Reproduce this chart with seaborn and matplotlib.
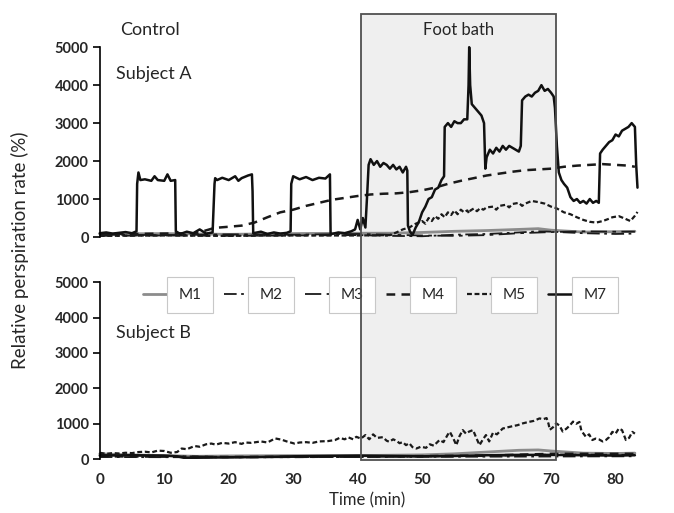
import matplotlib
matplotlib.use("Agg")
import matplotlib.pyplot as plt
import matplotlib.transforms as mtransforms
from matplotlib.patches import Rectangle
import pandas as pd
import seaborn as sns

# ---- data: Subject A (top panel) ----
a_m7_t = [0, 1, 2, 3, 4, 5, 5.7, 5.8, 6.0, 6.3, 7, 8, 8.5, 9, 10, 10.5, 11, 11.7,
          11.8, 12.5, 13.5, 14.5, 15.5, 16.5, 17.5, 17.8, 17.9, 18.2, 19, 20, 21,
          21.5, 22, 23, 23.6, 23.7, 23.8, 25, 26, 27, 28, 29, 29.6, 29.7, 30, 31,
          32, 33, 34, 35, 35.7, 35.8, 36, 37, 38, 39, 39.6, 40, 40.4, 40.8, 41.2,
          41.5, 41.7, 42, 42.5, 43, 43.5, 44, 44.5, 45, 45.5, 46, 46.5, 47, 47.5,
          47.7, 47.8, 48.1, 48.5, 49, 49.5, 50, 50.5, 51, 51.5, 52, 52.5, 53, 53.4,
          53.5, 54, 54.5, 55, 55.5, 56, 56.5, 57.0, 57.2, 57.3, 57.45, 57.7, 58.2,
          58.7, 59.2, 59.6, 59.8, 60, 60.5, 61, 61.5, 62, 62.5, 63, 63.5, 64, 64.5,
          65.0, 65.3, 65.5, 66, 66.5, 67, 67.5, 68, 68.5, 69, 69.5, 70, 70.4, 70.6,
          70.9, 71.2, 71.6, 72, 72.5, 73, 73.5, 74, 74.5, 75, 75.5, 76, 76.5, 77,
          77.4, 77.6, 78, 78.5, 79, 79.5, 80, 80.5, 81, 81.5, 82, 82.5, 83, 83.2,
          83.4]
a_m7_v = [100, 120, 90, 110, 130, 100, 150, 1400, 1700, 1500, 1520, 1480, 1600, 1500,
          1480, 1650, 1480, 1500, 150, 80, 140, 100, 200, 90, 120, 1400, 1550, 1500,
          1560, 1500, 1600, 1480, 1550, 1620, 1650, 1200, 100, 140, 80, 120, 90, 110,
          150, 1400, 1600, 1520, 1580, 1500, 1560, 1540, 1650, 100, 80, 120, 100, 150,
          200, 450, 200, 500, 250, 1200, 1900, 2050, 1900, 2000, 1850, 1950, 1900,
          1800, 1900, 1780, 1850, 1700, 1850, 1750, 300, 150, 50, 250, 400, 650, 800,
          1000, 1050, 1250, 1300, 1500, 1600, 2900, 3000, 2900, 3050, 3000, 3000,
          3100, 3100, 4000, 5000, 4000, 3500, 3400, 3300, 3200, 3000, 1800, 2100,
          2300, 2200, 2350, 2250, 2400, 2300, 2400, 2350, 2300, 2250, 2400, 3600,
          3700, 3750, 3700, 3800, 3850, 4000, 3850, 3900, 3800, 3700, 3400, 2400,
          1700, 1500, 1400, 1300, 1050, 950, 1000, 900, 950, 880, 1000, 900, 950, 900,
          2200, 2300, 2400, 2500, 2550, 2700, 2650, 2800, 2850, 2900, 3000, 2900,
          1900, 1300]

a_m4_t = [0, 5, 10, 15, 17.8, 20, 22, 24, 26, 28, 30, 32, 34, 36, 38, 40, 42, 44,
          46, 48, 50, 52, 54, 56, 58, 60, 62, 64, 66, 68, 70, 72, 74, 76, 78, 80, 82, 83]
a_m4_v = [90, 80, 90, 100, 240, 270, 300, 380, 520, 650, 720, 820, 900, 980, 1030,
          1080, 1120, 1140, 1150, 1180, 1230, 1300, 1400, 1480, 1550, 1620, 1670,
          1720, 1760, 1780, 1800, 1850, 1880, 1900, 1920, 1900, 1880, 1850]

a_m5_t = [0, 10, 20, 30, 40, 45, 46, 47, 48, 49, 50, 50.5, 51, 51.5, 52, 52.5, 53,
          53.5, 54, 54.5, 55, 55.5, 56, 56.5, 57, 57.3, 57.5, 58, 58.5, 59, 59.5, 60,
          61, 61.5, 62, 63, 63.5, 64, 65, 65.5, 66, 67, 68, 69, 70, 70.8, 72, 73, 74,
          75, 76, 77, 78, 78.8, 79.5, 80.5, 81.5, 82.3, 83, 83.4]
a_m5_v = [30, 40, 30, 40, 40, 50, 120, 200, 250, 350, 420, 350, 500, 420, 550, 480,
          600, 520, 650, 580, 700, 600, 720, 650, 700, 620, 700, 750, 680, 760, 720,
          780, 800, 720, 820, 850, 780, 870, 900, 820, 880, 950, 920, 880, 800, 760,
          650, 600, 520, 450, 400, 380, 420, 470, 520, 550, 480, 420, 560, 660]

a_m1_t = [0, 10, 20, 30, 40, 45, 50, 55, 60, 65, 68, 70, 75, 80, 83]
a_m1_v = [80, 90, 70, 90, 100, 100, 120, 150, 170, 200, 220, 180, 130, 140, 150]

a_m2_t = [0, 10, 20, 30, 40, 45, 50, 55, 60, 65, 68, 70, 75, 80, 83]
a_m2_v = [30, 40, 30, 40, 50, 30, 20, 60, 80, 120, 150, 140, 100, 80, 90]

a_m3_t = [0, 10, 20, 30, 40, 45, 50, 55, 60, 65, 70, 75, 80, 83]
a_m3_v = [60, 50, 70, 60, 80, 60, 40, 30, 50, 100, 130, 150, 140, 140]

# ---- data: Subject B (bottom panel) ----
b_m5_t = [0, 1, 2, 3, 4, 5, 6, 7, 8, 9, 10, 11, 12, 12.7, 13.5, 14.7, 15.5, 16.5,
          17.3, 18, 19, 20, 21, 22, 22.5, 23.5, 25, 26, 27.2, 28.2, 29, 30.2, 31, 32,
          33, 34, 35.4, 36.5, 37.2, 38, 38.5, 39.3, 39.8, 40.5, 41.2, 41.8, 42.4, 43,
          43.9, 44.5, 44.9, 45.5, 46, 46.5, 47, 47.5, 48, 48.5, 49.1, 49.8, 50.6,
          51.2, 51.8, 52.7, 53.3, 54, 54.3, 54.8, 55.3, 55.8, 56.3, 56.8, 57.3, 57.9,
          58.4, 58.9, 59.4, 59.9, 60.4, 61, 61.6, 62.5, 63.3, 64, 64.8, 65.6, 66.5,
          67.3, 68.2, 68.8, 69.3, 69.6, 69.8, 70.3, 70.8, 71.3, 71.8, 72.4, 72.9,
          73.4, 73.9, 74.4, 74.7, 75.4, 75.9, 76.4, 76.9, 77.4, 78, 78.5, 79, 79.5,
          80, 80.5, 81, 81.6, 82.1, 82.6, 83]
b_m5_v = [180, 150, 170, 160, 180, 170, 200, 210, 190, 240, 230, 180, 200, 300, 280,
          370, 350, 420, 440, 410, 460, 440, 480, 430, 470, 460, 500, 470, 585, 550,
          500, 440, 470, 480, 460, 500, 510, 540, 600, 560, 620, 560, 630, 580, 680,
          560, 700, 600, 620, 520, 490, 560, 520, 450, 480, 395, 450, 340, 300, 350,
          320, 420, 380, 540, 480, 700, 770, 600, 395, 650, 820, 720, 780, 820, 600,
          395, 550, 680, 500, 750, 700, 865, 900, 930, 960, 1010, 1050, 1080, 1150,
          1130, 1160, 1000, 830, 900, 1010, 950, 780, 865, 950, 1060, 1000, 1050,
          800, 630, 700, 540, 580, 560, 500, 540, 620, 770, 720, 865, 820, 540, 600,
          770, 720]

b_m1_t = [0, 5, 10, 15, 20, 30, 40, 50, 55, 60, 65, 68, 70, 75, 80, 83]
b_m1_v = [150, 120, 100, 80, 90, 100, 100, 120, 150, 200, 250, 260, 230, 170, 160, 170]

b_m7_t = [0, 5, 10, 12, 13, 15, 20, 25, 30, 35, 40, 45, 50, 55, 60, 65, 70, 75, 80, 83]
b_m7_v = [100, 110, 100, 80, 40, 40, 50, 60, 80, 90, 100, 90, 80, 90, 110, 120, 120,
          110, 100, 110]

b_m2_t = [0, 20, 40, 60, 83]
b_m2_v = [60, 50, 60, 70, 80]

b_m3_t = [0, 10, 20, 40, 60, 70, 83]
b_m3_v = [120, 90, 60, 60, 90, 130, 120]

b_m4_t = [0, 20, 40, 60, 70, 83]
b_m4_v = [80, 60, 70, 100, 150, 150]

bath_start, bath_end = 40.5, 70.8

# sensor order in the legend
sensors = ["M1", "M2", "M3", "M4", "M5", "M7"]
styles = {
    "M1": dict(color="#8c8c8c", lw=2.0, dashes=(None, None)),
    "M2": dict(color="#1a1a1a", lw=1.3, dashes=(7, 2.5, 1.5, 2.5)),
    "M3": dict(color="#1a1a1a", lw=1.3, dashes=(9, 3, 2, 3)),
    "M4": dict(color="#1a1a1a", lw=1.8, dashes=(3.5, 2.5)),
    "M5": dict(color="#1a1a1a", lw=1.6, dashes=(2.2, 1.2)),
    "M7": dict(color="#111111", lw=1.8, dashes=(None, None)),
}

panel_a = {"M1": (a_m1_t, a_m1_v), "M2": (a_m2_t, a_m2_v), "M3": (a_m3_t, a_m3_v),
           "M4": (a_m4_t, a_m4_v), "M5": (a_m5_t, a_m5_v), "M7": (a_m7_t, a_m7_v)}
panel_b = {"M1": (b_m1_t, b_m1_v), "M2": (b_m2_t, b_m2_v), "M3": (b_m3_t, b_m3_v),
           "M4": (b_m4_t, b_m4_v), "M5": (b_m5_t, b_m5_v), "M7": (b_m7_t, b_m7_v)}

sns.set_theme(style="white")
plt.rcParams["font.family"] = ["Lato", "DejaVu Sans"]

fig = plt.figure(figsize=(6.74, 5.13), dpi=100)
ax_a = fig.add_axes([0.148, 0.538, 0.794, 0.370])
ax_b = fig.add_axes([0.148, 0.105, 0.794, 0.345])


def draw_panel(ax, panel, order):
    for name in order:
        t, v = panel[name]
        df = pd.DataFrame({"time": t, "rate": v})
        st = styles[name]
        line = sns.lineplot(data=df, x="time", y="rate", ax=ax, estimator=None,
                            sort=False, color=st["color"], lw=st["lw"], label=name,
                            legend=False)
        ln = line.get_lines()[-1]
        if st["dashes"][0] is not None:
            ln.set_dashes(st["dashes"])
        ln.set_clip_on(False)


# draw order: thin baseline lines first, main trace on top
draw_panel(ax_a, panel_a, sensors)
draw_panel(ax_b, panel_b, sensors)

for ax in (ax_a, ax_b):
    ax.set_facecolor("none")
    ax.set_xlim(0, 83)
    ax.set_ylim(0, 5000)
    ax.set_yticks(range(0, 5001, 1000))
    ax.set_xlabel("")
    ax.set_ylabel("")
    for side in ("top", "right", "bottom"):
        ax.spines[side].set_visible(False)
    ax.spines["left"].set_color("black")
    ax.spines["left"].set_linewidth(1.2)
    ax.tick_params(axis="y", direction="out", length=5, width=1.2, color="black",
                   left=True, labelsize=10.5, pad=3)
    for lab in ax.get_yticklabels():
        lab.set_fontweight("bold")

ax_a.tick_params(axis="x", bottom=False, labelbottom=False)
ax_b.set_xticks(range(0, 81, 10))
ax_b.tick_params(axis="x", bottom=False, labelsize=11, pad=4)
for lab in ax_b.get_xticklabels():
    lab.set_fontweight("bold")
ax_b.set_xlabel("Time (min)", fontsize=12, labelpad=4)

# foot bath window spanning both panels
trans = mtransforms.blended_transform_factory(ax_a.transData, fig.transFigure)
fig.patches.append(Rectangle((bath_start, 0.103), bath_end - bath_start, 0.870,
                             transform=trans, facecolor="#efefef", edgecolor="none",
                             zorder=-1, figure=fig))
fig.patches.append(Rectangle((bath_start, 0.103), bath_end - bath_start, 0.870,
                             transform=trans, facecolor="none", edgecolor="#505050",
                             lw=1.3, zorder=5, figure=fig))
fig.text(0.5 * (bath_start + bath_end) / 83 * 0.794 + 0.148, 0.942, "Foot bath",
         ha="center", va="center", fontsize=12)

fig.text(0.178, 0.942, "Control", ha="left", va="center", fontsize=13)
ax_a.text(0.03, 0.86, "Subject A", transform=ax_a.transAxes, ha="left",
          va="center", fontsize=13)
ax_b.text(0.03, 0.71, "Subject B", transform=ax_b.transAxes, ha="left",
          va="center", fontsize=13)

fig.text(0.03, 0.513, "Relative perspiration rate (%)", rotation=90, ha="center",
         va="center", fontsize=13.5)

# legend row inside the lower panel
handles, labels = ax_b.get_legend_handles_labels()
leg = ax_b.legend(handles, labels, ncol=6, loc="center",
                  bbox_to_anchor=(0.556, 0.425), bbox_transform=fig.transFigure,
                  frameon=False, fontsize=11, handlelength=1.6,
                  handletextpad=0.7, columnspacing=1.5)
for txt in leg.get_texts():
    txt.set_bbox(dict(boxstyle="square,pad=0.75", facecolor="white",
                      edgecolor="#c8c8c8", lw=0.8))

fig.savefig("out.png", dpi=100)
